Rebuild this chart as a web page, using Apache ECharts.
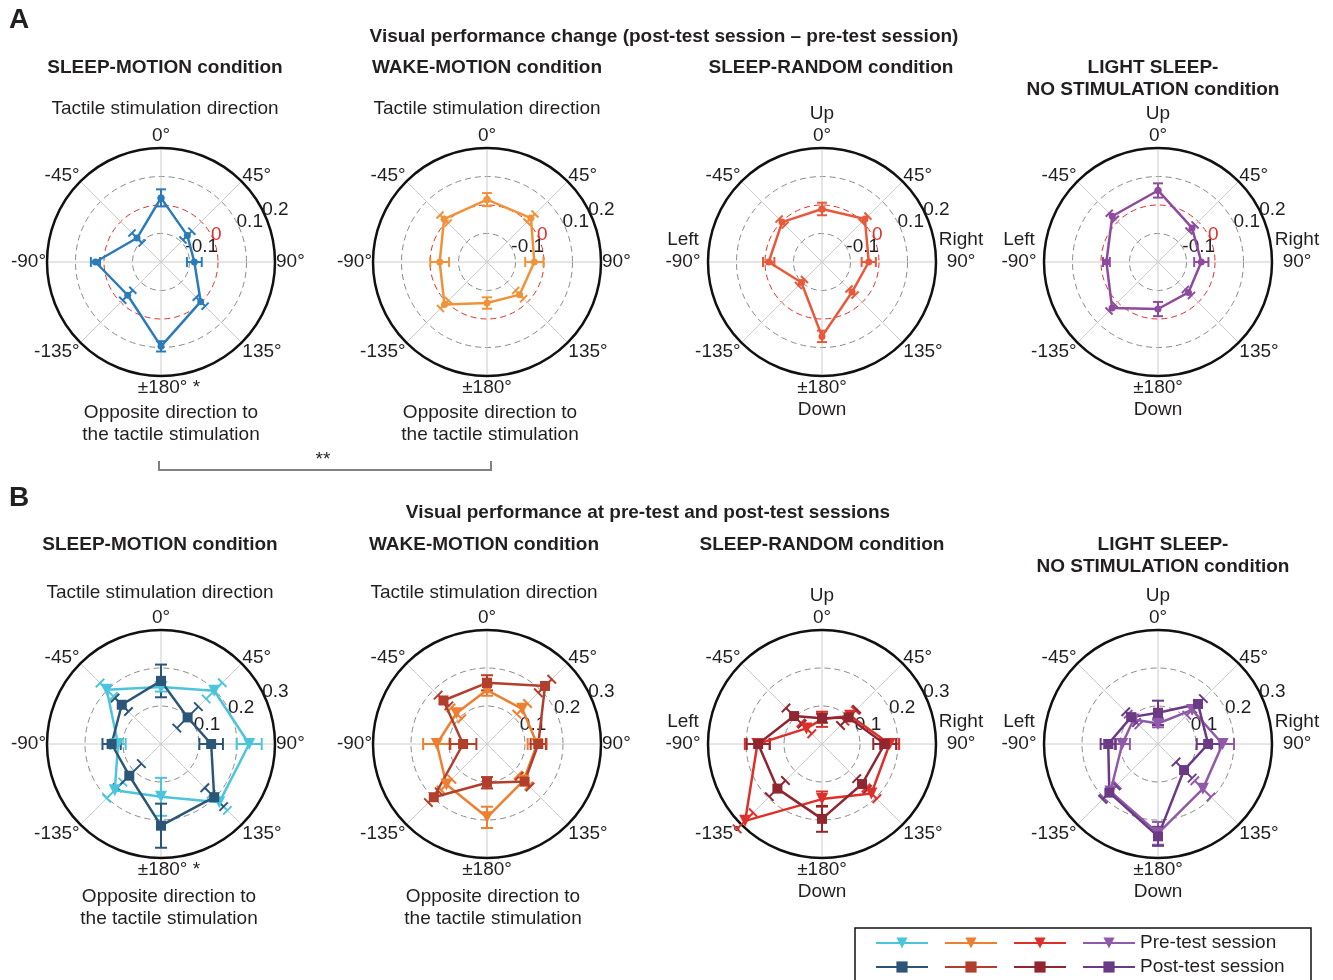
<!DOCTYPE html>
<html>
<head>
<meta charset="utf-8">
<script src="https://cdn.jsdelivr.net/npm/echarts@6/dist/echarts.min.js"></script>
<style>
  html, body { margin: 0; padding: 0; background: #fff; }
  #chart { width: 1333px; height: 980px; }
</style>
</head>
<body>
<div id="chart"></div>
<script>
// directions (deg, 0 = up, clockwise) and their tick labels
const angles = [0, 45, 90, 135, 180, 225, 270, 315];
const angleLabels = ['0°', '45°', '90°', '135°', '±180°', '-135°', '-90°', '-45°'];
const changeTicks = [-0.2, -0.1, 0, 0.1, 0.2];
const levelTicks = [0, 0.1, 0.2, 0.3];

// A: performance change (post - pre), mean and s.e.m.
const smChange = [0.025, -0.069, -0.083, -0.003, 0.096, -0.035, 0.030, -0.081];
const smChangeErr = [0.03, 0.022, 0.026, 0.022, 0.018, 0.025, 0.016, 0.025];
const wmChange = [0.019, 0.018, -0.034, -0.038, -0.056, 0.011, -0.034, 0.013];
const wmChangeErr = [0.023, 0.02, 0.032, 0.02, 0.02, 0.02, 0.033, 0.02];
const srChange = [-0.014, 0.013, -0.036, -0.051, 0.061, -0.098, -0.013, -0.002];
const srChangeErr = [0.022, 0.015, 0.025, 0.015, 0.02, 0.015, 0.02, 0.015];
const lsChange = [0.051, -0.031, -0.048, -0.049, -0.035, 0.028, -0.019, 0.027];
const lsChangeErr = [0.025, 0.015, 0.025, 0.015, 0.025, 0.015, 0.012, 0.015];

// B: performance at pre-test and post-test sessions
const smPre = [0.15, 0.198, 0.232, 0.217, 0.139, 0.172, 0.113, 0.202];
const smPreErr = [0.012, 0.03, 0.033, 0.03, 0.05, 0.03, 0.02, 0.025];
const smPost = [0.166, 0.099, 0.132, 0.198, 0.215, 0.118, 0.130, 0.146];
const smPostErr = [0.043, 0.04, 0.031, 0.035, 0.058, 0.045, 0.024, 0.025];
const wmPre = [0.142, 0.131, 0.132, 0.136, 0.193, 0.151, 0.132, 0.114];
const wmPreErr = [0.015, 0.02, 0.025, 0.02, 0.028, 0.02, 0.036, 0.02];
const wmPost = [0.161, 0.216, 0.135, 0.14, 0.102, 0.198, 0.063, 0.162];
const wmPostErr = [0.02, 0.025, 0.02, 0.02, 0.015, 0.02, 0.035, 0.02];
const srPre = [0.065, 0.105, 0.178, 0.184, 0.145, 0.286, 0.17, 0.058];
const srPreErr = [0.02, 0.02, 0.025, 0.02, 0.02, 0.03, 0.033, 0.02];
const srPost = [0.068, 0.099, 0.165, 0.149, 0.197, 0.166, 0.168, 0.104];
const srPostErr = [0.012, 0.03, 0.03, 0.02, 0.034, 0.03, 0.03, 0.03];
const lsPre = [0.054, 0.127, 0.17, 0.167, 0.235, 0.177, 0.094, 0.091];
const lsPreErr = [0.01, 0.02, 0.03, 0.03, 0.03, 0.025, 0.02, 0.02];
const lsPost = [0.082, 0.149, 0.132, 0.097, 0.243, 0.181, 0.131, 0.1];
const lsPostErr = [0.032, 0.02, 0.03, 0.03, 0.025, 0.025, 0.02, 0.02];

const FONT = '"Liberation Sans", Arial, sans-serif';
const INK = '#231f20';
const FS = 19;
const R = 114;

const plots = [
  { cx: 161, cy: 262, ticks: changeTicks, dirs: false, star: true,
    lines: [{ name: 'SM change', v: smChange, e: smChangeErr, color: '#2b7bb9', sym: 'circle' }] },
  { cx: 487, cy: 262, ticks: changeTicks, dirs: false, star: false,
    lines: [{ name: 'WM change', v: wmChange, e: wmChangeErr, color: '#f0923a', sym: 'circle' }] },
  { cx: 822, cy: 262, ticks: changeTicks, dirs: true, star: false,
    lines: [{ name: 'SR change', v: srChange, e: srChangeErr, color: '#e8593b', sym: 'circle' }] },
  { cx: 1158, cy: 262, ticks: changeTicks, dirs: true, star: false,
    lines: [{ name: 'LS change', v: lsChange, e: lsChangeErr, color: '#8e4b9d', sym: 'circle' }] },
  { cx: 161, cy: 744, ticks: levelTicks, dirs: false, star: true,
    lines: [{ name: 'SM pre', v: smPre, e: smPreErr, color: '#4cc5dc', sym: 'triangle' },
            { name: 'SM post', v: smPost, e: smPostErr, color: '#2c5677', sym: 'rect' }] },
  { cx: 487, cy: 744, ticks: levelTicks, dirs: false, star: false,
    lines: [{ name: 'WM pre', v: wmPre, e: wmPreErr, color: '#ee7f30', sym: 'triangle' },
            { name: 'WM post', v: wmPost, e: wmPostErr, color: '#b23e2c', sym: 'rect' }] },
  { cx: 822, cy: 744, ticks: levelTicks, dirs: true, star: false,
    lines: [{ name: 'SR pre', v: srPre, e: srPreErr, color: '#de2f2a', sym: 'triangle' },
            { name: 'SR post', v: srPost, e: srPostErr, color: '#8f2630', sym: 'rect' }] },
  { cx: 1158, cy: 744, ticks: levelTicks, dirs: true, star: false,
    lines: [{ name: 'LS pre', v: lsPre, e: lsPreErr, color: '#9159a9', sym: 'triangle' },
            { name: 'LS post', v: lsPost, e: lsPostErr, color: '#6b3a84', sym: 'rect' }] }
];

function angleFormatter(dirs, star) {
  return function (v) {
    const i = angles.indexOf(Math.round(v));
    if (i < 0) return '';
    const t = angleLabels[i];
    if (v === 45 || v === 315) return '{dt|' + t + '}';
    if (v === 135 || v === 225) return '{db|' + t + '}';
    if (v === 180 && star) return '   ' + t + ' *';
    if (!dirs) return t;
    if (v === 0) return 'Up\n' + t;
    if (v === 180) return t + '\nDown';
    if (v === 90) return '{c|Right}\n{c|' + t + '}\n{c| }';
    if (v === 270) return '{c|Left}\n{c|' + t + '}\n{c| }';
    return t;
  };
}

function errorBar(cap, color, width) {
  return function (params, api) {
    const r = api.value(0), a = api.value(1), e = api.value(2);
    const p1 = api.coord([r - e, a]);
    const p2 = api.coord([r + e, a]);
    const dx = p2[0] - p1[0], dy = p2[1] - p1[1];
    const len = Math.hypot(dx, dy) || 1;
    const nx = -dy / len * cap, ny = dx / len * cap;
    const style = { stroke: color, lineWidth: width };
    return {
      type: 'group',
      children: [
        { type: 'line', shape: { x1: p1[0], y1: p1[1], x2: p2[0], y2: p2[1] }, style: style },
        { type: 'line', shape: { x1: p1[0] - nx, y1: p1[1] - ny, x2: p1[0] + nx, y2: p1[1] + ny }, style: style },
        { type: 'line', shape: { x1: p2[0] - nx, y1: p2[1] - ny, x2: p2[0] + nx, y2: p2[1] + ny }, style: style }
      ]
    };
  };
}

const polar = [], angleAxis = [], radiusAxis = [], series = [];

plots.forEach(function (p, i) {
  const center = [p.cx, p.cy];
  const rmin = p.ticks[0], rmax = p.ticks[p.ticks.length - 1];
  const ringColors = p.ticks.map(t => Math.abs(t) < 1e-9 && rmin < 0 ? '#e0302c' : '#8a8a8a');
  const main = 2 * i, lab = 2 * i + 1;

  polar.push({ center: center, radius: R });
  angleAxis.push({
    polarIndex: main, type: 'value', min: 0, max: 360, interval: 45,
    startAngle: 90, clockwise: true,
    axisLine: { show: true, lineStyle: { color: '#111', width: 2.5 } },
    axisTick: { show: false },
    splitLine: { show: true, lineStyle: { color: '#cccccc', width: 1 } },
    axisLabel: {
      show: true, margin: 1, fontSize: FS, color: INK, fontFamily: FONT, lineHeight: 22,
      formatter: angleFormatter(p.dirs, p.star),
      rich: {
        c: { width: 48, align: 'center', fontSize: FS, lineHeight: 22, color: INK, fontFamily: FONT },
        dt: { fontSize: FS, lineHeight: 10, color: INK, fontFamily: FONT },
        db: { fontSize: FS, lineHeight: 17, color: INK, fontFamily: FONT }
      }
    }
  });
  radiusAxis.push({
    polarIndex: main, type: 'value', min: rmin, max: rmax, interval: 0.1,
    axisLine: { show: false }, axisTick: { show: false }, axisLabel: { show: false },
    splitLine: { show: true, lineStyle: { color: ringColors, type: [6, 4], width: 1 } }
  });

  // second polar only to put the r tick labels along the upper right direction;
  // one extra (hidden) step past the rim so the rim label is not dropped as "max"
  const span = rmax - rmin;
  polar.push({ center: center, radius: R * (span + 0.1) / span });
  angleAxis.push({ polarIndex: lab, type: 'value', min: 0, max: 360, startAngle: 26, show: false });
  radiusAxis.push({
    polarIndex: lab, type: 'value', min: rmin, max: rmax + 0.1, interval: 0.1,
    axisLine: { show: false }, axisTick: { show: false }, splitLine: { show: false },
    axisLabel: {
      show: true, margin: 3, fontSize: FS, fontFamily: FONT, align: 'left', verticalAlign: 'middle',
      showMinLabel: false, showMaxLabel: false, hideOverlap: false,
      color: v => Math.abs(+v) < 1e-9 ? '#e0302c' : INK,
      formatter: v => (v <= rmin + 1e-9 || v > rmax + 1e-9) ? '' : String(Math.round(v * 10) / 10)
    }
  });

  p.lines.forEach(function (s) {
    const pts = angles.map((a, k) => [s.v[k], a]);
    pts.push([s.v[0], 360]);
    const isA = s.sym === 'circle';
    series.push({
      type: 'custom', name: s.name + ' err', coordinateSystem: 'polar', polarIndex: main,
      renderItem: errorBar(isA ? 5 : 6, s.color, 2),
      data: angles.map((a, k) => [s.v[k], a, s.e[k]]),
      encode: { radius: 0, angle: 1 }, silent: true, z: 3
    });
    series.push({
      type: 'line', name: s.name, coordinateSystem: 'polar', polarIndex: main,
      data: pts, symbol: s.sym,
      symbolSize: isA ? 7 : (s.sym === 'triangle' ? 12 : 10),
      symbolRotate: s.sym === 'triangle' ? 180 : 0,
      showAllSymbol: true,
      lineStyle: { color: s.color, width: 2.5 },
      itemStyle: { color: s.color },
      z: 4, silent: true
    });
  });
});

const title = [];
function txt(text, x, y, size, weight) {
  title.push({
    text: text, left: x, top: y, textAlign: 'center', textVerticalAlign: 'middle', padding: 0,
    textStyle: { fontSize: size, fontWeight: weight, color: INK, fontFamily: FONT, lineHeight: 22 }
  });
}
txt('A', 19, 20, 28, 'bold');
txt('B', 19, 498, 28, 'bold');
txt('Visual performance change (post-test session – pre-test session)', 664, 37, FS, 'bold');
txt('Visual performance at pre-test and post-test sessions', 648, 513, FS, 'bold');
txt('SLEEP-MOTION condition', 165, 68, FS, 'bold');
txt('WAKE-MOTION condition', 487, 68, FS, 'bold');
txt('SLEEP-RANDOM condition', 831, 68, FS, 'bold');
txt('LIGHT SLEEP-\nNO STIMULATION condition', 1153, 79, FS, 'bold');
txt('SLEEP-MOTION condition', 160, 545, FS, 'bold');
txt('WAKE-MOTION condition', 484, 545, FS, 'bold');
txt('SLEEP-RANDOM condition', 822, 545, FS, 'bold');
txt('LIGHT SLEEP-\nNO STIMULATION condition', 1163, 556, FS, 'bold');
txt('Tactile stimulation direction', 165, 109, FS, 'normal');
txt('Tactile stimulation direction', 487, 109, FS, 'normal');
txt('Tactile stimulation direction', 160, 593, FS, 'normal');
txt('Tactile stimulation direction', 484, 593, FS, 'normal');
txt('Opposite direction to\nthe tactile stimulation', 171, 424, FS, 'normal');
txt('Opposite direction to\nthe tactile stimulation', 490, 424, FS, 'normal');
txt('Opposite direction to\nthe tactile stimulation', 169, 908, FS, 'normal');
txt('Opposite direction to\nthe tactile stimulation', 493, 908, FS, 'normal');
txt('**', 323, 460, FS, 'normal');

const legendCols = [875, 944, 1013, 1082];
const legendNames = [['SM pre', 'SM post'], ['WM pre', 'WM post'], ['SR pre', 'SR post'], ['LS pre', 'LS post']];
const legend = legendCols.map(function (x, k) {
  return {
    left: x, top: 933, orient: 'vertical', itemWidth: 52, itemHeight: 14, itemGap: 4,
    padding: 0, selectedMode: false, data: legendNames[k],
    formatter: k === 3 ? (n => n.endsWith('pre') ? 'Pre-test session' : 'Post-test session') : (() => ' '),
    textStyle: { fontSize: FS, color: INK, fontFamily: FONT, lineHeight: 20 }
  };
});

const chart = echarts.init(document.getElementById('chart'));
chart.setOption({
  animation: false,
  backgroundColor: '#fff',
  title: title,
  legend: legend,
  polar: polar,
  angleAxis: angleAxis,
  radiusAxis: radiusAxis,
  series: series,
  graphic: [
    { type: 'polyline', shape: { points: [[159, 461], [159, 470], [491, 470], [491, 461]] },
      style: { stroke: '#808080', lineWidth: 2, fill: null } },
    { type: 'rect', shape: { x: 855, y: 928, width: 456, height: 60 },
      style: { fill: null, stroke: '#111', lineWidth: 1.5 } }
  ]
});
</script>
</body>
</html>
